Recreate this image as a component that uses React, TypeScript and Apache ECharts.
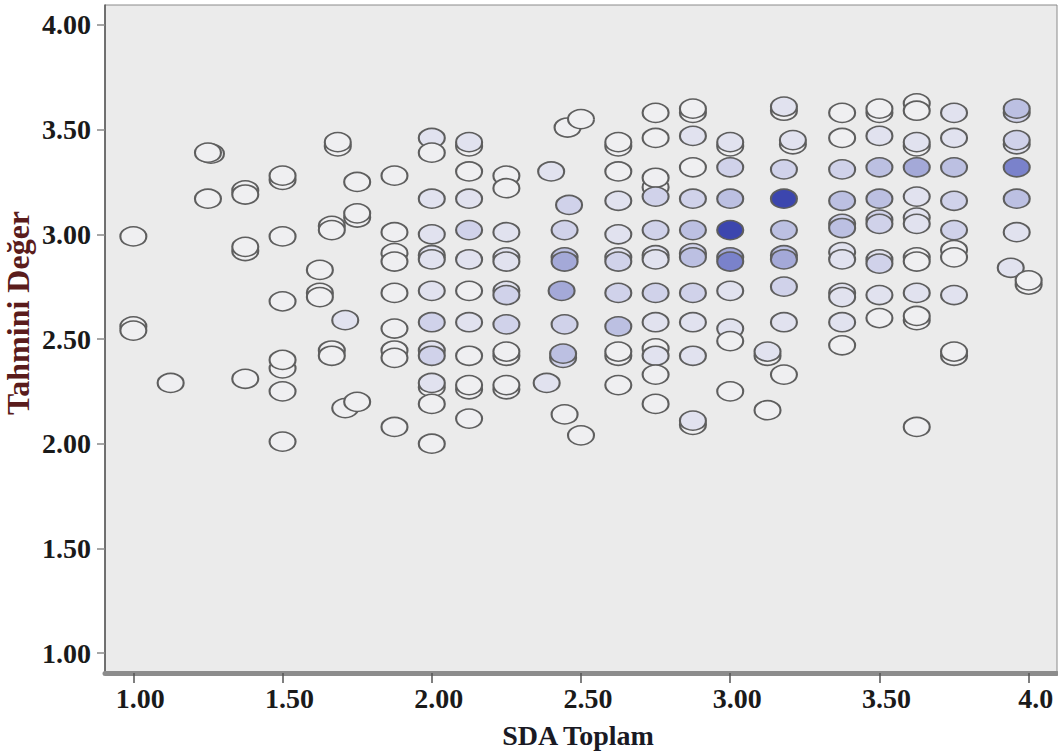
import React, { useEffect, useRef } from 'react';
import * as echarts from 'echarts';

// SDA Toplam column positions (x) and the Tahmini Değer values (y) in each column
const xColumns = [
  1.0, 1.125, 1.25, 1.375, 1.5, 1.625, 1.665, 1.685, 1.71, 1.75, 1.875,
  2.0, 2.125, 2.25, 2.385, 2.4, 2.435, 2.44, 2.445, 2.455, 2.46, 2.5,
  2.625, 2.75, 2.875, 3.0, 3.125, 3.18, 3.21, 3.375, 3.5, 3.625, 3.75,
  3.94, 3.96, 4.0,
];
const yByColumn = [
  [2.99, 2.54],
  [2.29],
  [3.39, 3.17],
  [3.19, 2.94, 2.31],
  [3.28, 2.99, 2.68, 2.4, 2.25, 2.01],
  [2.83, 2.7],
  [3.02, 2.42],
  [3.44],
  [2.59, 2.17],
  [3.25, 3.1, 2.2],
  [3.28, 3.01, 2.87, 2.72, 2.55, 2.41, 2.08],
  [3.46, 3.39, 3.17, 3.0, 2.88, 2.73, 2.58, 2.42, 2.29, 2.19, 2.0],
  [3.44, 3.3, 3.17, 3.02, 2.88, 2.73, 2.58, 2.42, 2.28, 2.12],
  [3.28, 3.22, 3.01, 2.87, 2.71, 2.57, 2.44, 2.28],
  [2.29],
  [3.3],
  [2.73],
  [2.43],
  [3.02, 2.87, 2.57, 2.14],
  [3.51],
  [3.14],
  [3.55, 2.04],
  [3.44, 3.3, 3.16, 3.0, 2.87, 2.72, 2.56, 2.44, 2.28],
  [3.58, 3.46, 3.27, 3.18, 3.02, 2.88, 2.72, 2.58, 2.42, 2.33, 2.19],
  [3.6, 3.47, 3.32, 3.17, 3.02, 2.89, 2.72, 2.58, 2.42, 2.11],
  [3.44, 3.32, 3.17, 3.02, 2.87, 2.73, 2.55, 2.49, 2.25],
  [2.44, 2.16],
  [3.61, 3.31, 3.17, 3.02, 2.88, 2.75, 2.58, 2.33],
  [3.45],
  [3.58, 3.46, 3.31, 3.16, 3.03, 2.88, 2.7, 2.58, 2.47],
  [3.6, 3.47, 3.32, 3.17, 3.05, 2.86, 2.71, 2.6],
  [3.59, 3.44, 3.32, 3.18, 3.05, 2.87, 2.72, 2.61, 2.08],
  [3.58, 3.46, 3.32, 3.16, 3.02, 2.89, 2.71, 2.44],
  [2.84],
  [3.6, 3.45, 3.32, 3.17, 3.01],
  [2.78],
];
// density shade level of each marker (0 = empty, 6 = densest)
const densityByColumn = [
  [0, 0],
  [0],
  [0, 0],
  [0, 0, 0],
  [0, 0, 0, 0, 0, 0],
  [0, 0],
  [0, 0],
  [0],
  [1, 0],
  [0, 0, 0],
  [0, 0, 0, 0, 0, 0, 0],
  [1, 0, 1, 1, 1, 1, 2, 2, 1, 0, 0],
  [1, 0, 1, 2, 1, 0, 1, 0, 0, 0],
  [0, 0, 1, 1, 2, 2, 0, 0],
  [1],
  [1],
  [4],
  [3],
  [2, 4, 2, 0],
  [0],
  [2],
  [0, 0],
  [0, 0, 1, 1, 2, 2, 3, 0, 0],
  [0, 0, 0, 2, 2, 1, 2, 1, 1, 0, 0],
  [0, 1, 0, 2, 3, 3, 2, 1, 1, 1],
  [1, 2, 3, 6, 5, 1, 1, 0, 0],
  [1, 0],
  [1, 2, 6, 3, 4, 2, 1, 0],
  [1],
  [0, 0, 2, 3, 3, 1, 1, 1, 0],
  [0, 1, 3, 3, 2, 2, 1, 0],
  [0, 1, 4, 1, 1, 0, 1, 0, 0],
  [1, 1, 3, 2, 2, 0, 1, 0],
  [1],
  [3, 2, 5, 3, 1],
  [0],
];

// partly hidden markers lying behind others
const overlapX = [
  1.0, 1.26, 1.375, 1.375, 1.5, 1.5, 1.625, 1.665, 1.665, 1.685, 1.75, 1.875,
  1.875, 2.0, 2.0, 2.0, 2.125, 2.125, 2.25, 2.25, 2.25, 2.25, 2.445, 2.44,
  2.625, 2.625, 2.625, 2.75, 2.75, 2.75, 2.875, 2.875, 2.875, 3.0, 3.0, 3.125,
  3.18, 3.18, 3.21, 3.375, 3.375, 3.375, 3.5, 3.5, 3.5, 3.625, 3.625, 3.625,
  3.625, 3.625, 3.75, 3.75, 3.96, 3.96, 4.0,
];
const overlapY = [
  2.56, 3.385, 3.21, 2.92, 3.26, 2.36, 2.72, 3.04, 2.445, 3.42, 3.08, 2.91,
  2.445, 2.9, 2.445, 2.27, 3.42, 2.26, 2.89, 2.73, 2.42, 2.26, 2.89, 2.41,
  3.42, 2.89, 2.42, 3.225, 2.9, 2.455, 3.58, 2.91, 2.09, 3.42, 2.89, 2.42,
  3.59, 2.9, 3.43, 3.05, 2.915, 2.72, 3.58, 3.07, 2.88, 3.625, 3.42, 3.08,
  2.89, 2.59, 2.925, 2.42, 3.58, 3.43, 2.76,
];
const overlapDensity = [
  0, 0, 0, 0, 0, 0, 0, 0, 0, 0, 0, 0,
  0, 1, 1, 0, 0, 0, 1, 1, 0, 0, 3, 2,
  0, 1, 0, 0, 1, 0, 0, 2, 0, 0, 4, 0,
  0, 3, 0, 2, 1, 1, 0, 2, 1, 0, 0, 1,
  0, 0, 0, 0, 2, 1, 0,
];

const xTickValues = [1, 1.5, 2, 2.5, 3, 3.5, 4];
const xTickLabels = ['1.00', '1.50', '2.00', '2.50', '3.00', '3.50', '4.0'];
const yTickValues = [1, 1.5, 2, 2.5, 3, 3.5, 4];
const yTickLabels = ['1.00', '1.50', '2.00', '2.50', '3.00', '3.50', '4.00'];
const densityColors = ['#efeff1', '#e1e2ef', '#d0d2ea', '#bcc0e2', '#a4a9d8', '#7a82cb', '#3c46ae'];

const labelFor = (values: number[], labels: string[]) => (v: number) => {
  const i = values.findIndex((t) => Math.abs(t - v) < 1e-6);
  return i >= 0 ? labels[i] : '';
};

export default function App() {
  const ref = useRef<HTMLDivElement>(null);
  useEffect(() => {
    const chart = echarts.init(ref.current!, null, { renderer: 'svg' });
    const mainData: number[][] = [];
    xColumns.forEach((x, i) =>
      yByColumn[i].forEach((y, j) => mainData.push([x, y, densityByColumn[i][j]]))
    );
    const overlapData = overlapX.map((x, i) => [x, overlapY[i], overlapDensity[i]]);
    const serif = "'Liberation Serif', 'Times New Roman', serif";
    const marker = {
      type: 'scatter',
      symbol: 'circle',
      symbolSize: [26, 19],
      silent: true,
      itemStyle: { borderColor: '#5e5e5e', borderWidth: 1.8, opacity: 1 },
      emphasis: { disabled: true },
    };
    chart.setOption({
      animation: false,
      backgroundColor: '#ffffff',
      grid: {
        left: 105,
        right: 1,
        top: 5,
        bottom: 80,
        show: true,
        backgroundColor: '#ebebeb',
        borderColor: '#8a8a8a',
        borderWidth: 1,
      },
      visualMap: {
        type: 'continuous',
        show: false,
        dimension: 2,
        min: 0,
        max: 6,
        seriesIndex: [0, 1],
        inRange: { color: densityColors },
      },
      xAxis: {
        type: 'value',
        min: 0.905,
        max: 4.095,
        splitLine: { show: false },
        axisLine: { show: true, lineStyle: { color: '#8c8c8c', width: 5 } },
        axisTick: {
          show: true,
          customValues: xTickValues,
          length: 10,
          lineStyle: { color: '#555555', width: 1.5 },
        },
        axisLabel: {
          customValues: xTickValues,
          formatter: labelFor(xTickValues, xTickLabels),
          fontFamily: serif,
          fontWeight: 'bold',
          fontSize: 28,
          color: '#1a1a1a',
          margin: 11,
          padding: [0, 0, 0, 14],
        },
      },
      yAxis: {
        type: 'value',
        min: 0.905,
        max: 4.095,
        splitLine: { show: false },
        axisLine: { show: true, lineStyle: { color: '#555555', width: 1.5 } },
        axisTick: {
          show: true,
          customValues: yTickValues,
          length: 8,
          lineStyle: { color: '#8a8a8a', width: 1.5 },
        },
        axisLabel: {
          customValues: yTickValues,
          formatter: labelFor(yTickValues, yTickLabels),
          fontFamily: serif,
          fontWeight: 'bold',
          fontSize: 28,
          color: '#1a1a1a',
          margin: 14,
        },
      },
      graphic: [
        {
          type: 'text',
          x: 18,
          y: 313,
          rotation: Math.PI / 2,
          style: {
            text: 'Tahmini Değer',
            fill: '#5a1c1c',
            font: `bold 32px ${serif}`,
            textAlign: 'center',
            textVerticalAlign: 'middle',
          },
        },
        {
          type: 'text',
          x: 578,
          y: 735,
          style: {
            text: 'SDA Toplam',
            fill: '#1a1a24',
            font: `bold 28px ${serif}`,
            textAlign: 'center',
            textVerticalAlign: 'middle',
          },
        },
      ],
      series: [
        { ...marker, name: 'overlap', data: overlapData, z: 2 },
        { ...marker, name: 'Tahmini Değer', data: mainData, z: 3 },
      ],
    });
    return () => chart.dispose();
  }, []);
  return (
    <div
      ref={ref}
      style={{ position: 'absolute', left: 0, top: 0, width: 1058, height: 753, background: '#fff' }}
    />
  );
}
